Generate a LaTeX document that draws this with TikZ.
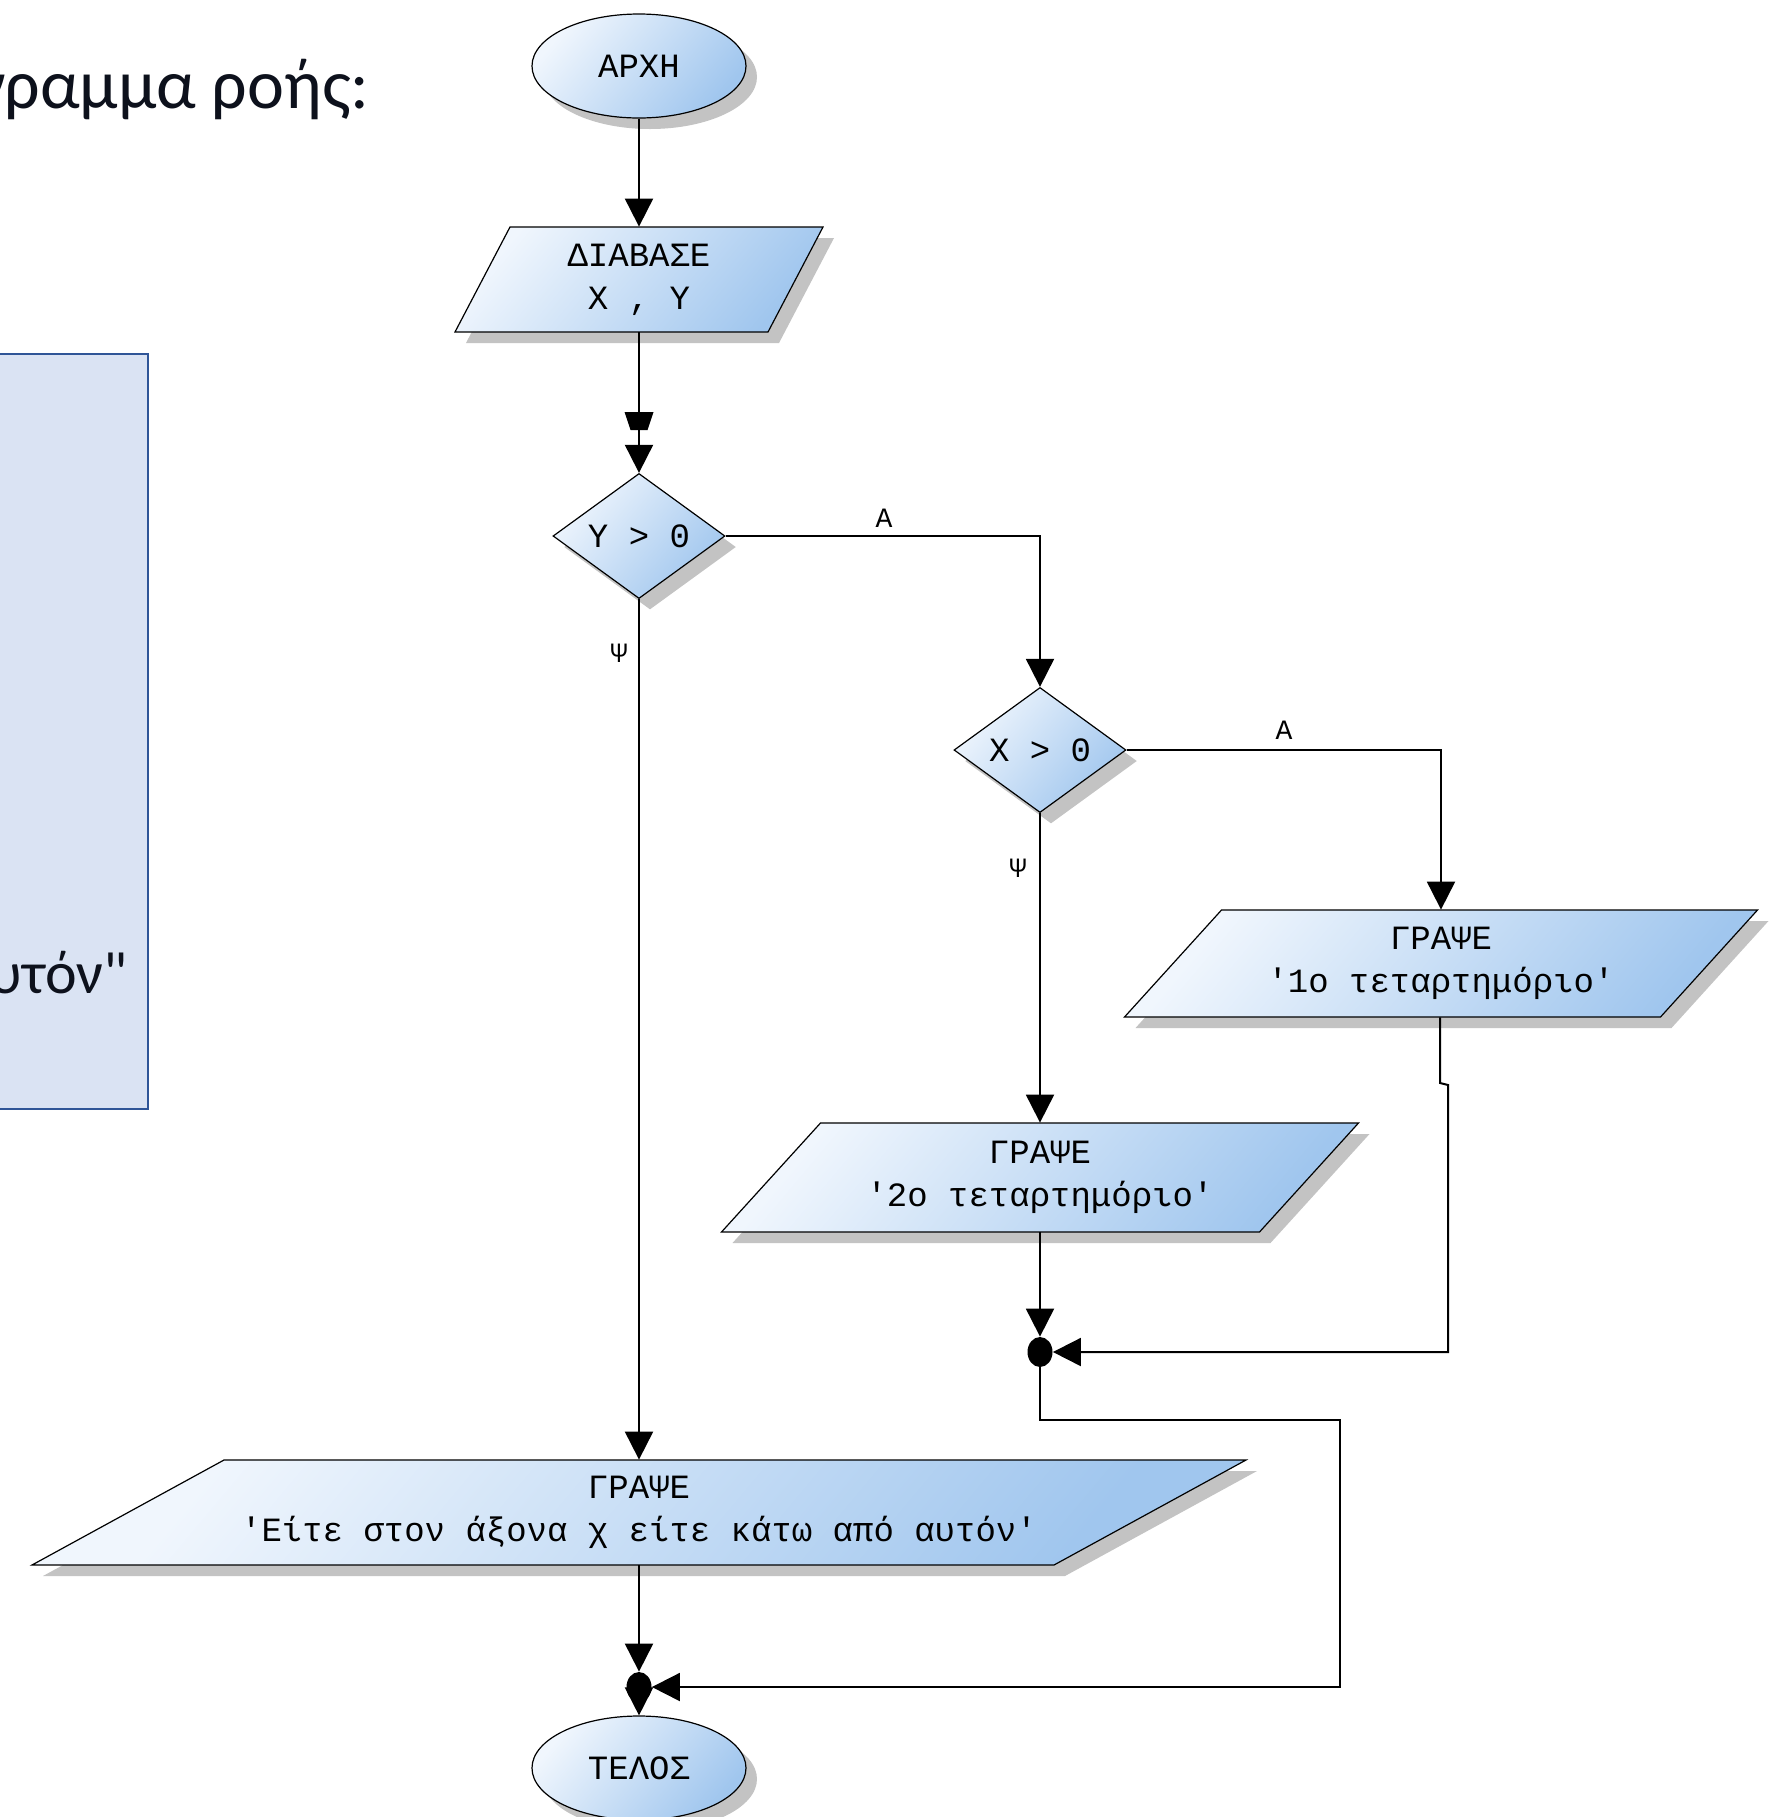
\documentclass[tikz,border=0pt]{standalone}
\usepackage{fontspec}
\setmainfont{Carlito}
\newfontfamily\fslide{Carlito}
\newfontfamily\fmono{Liberation Mono}
\usetikzlibrary{shapes.geometric,arrows.meta,shadows}
\definecolor{shL}{RGB}{240,246,253}
\definecolor{shD}{RGB}{160,198,238}
\definecolor{boxfill}{RGB}{218,227,243}
\definecolor{boxdraw}{RGB}{47,85,151}
\definecolor{shadowgray}{RGB}{195,195,195}
\definecolor{txtdark}{RGB}{13,17,28}
\tikzset{
  conn/.style={line width=1pt, draw=black},
  arr/.style={conn, -{Triangle[length=14pt,width=14pt]}},
  fcfill/.style={draw=black, line width=0.6pt, top color=shL, bottom color=shD, shading angle=50,
    drop shadow={shadow xshift=5.5pt, shadow yshift=-5.5pt, fill=shadowgray, opacity=1}},
  fctext/.style={font=\fontsize{17}{21.5}\fmono, inner sep=0pt, align=center},
  term/.style={fcfill, fctext, ellipse, minimum width=107pt, minimum height=52pt},
  decis/.style={fcfill, fctext, diamond, minimum width=86pt, minimum height=52pt},
  iotext/.style={fctext, shape=rectangle},
  jn/.style={ellipse, fill=black, minimum width=12.5pt, minimum height=15pt, inner sep=0pt},
  lbl/.style={font=\fontsize{14}{16}\fmono, inner sep=0pt},
  slide/.style={inner sep=0pt, text=txtdark}
}
% #1 name, #2 x, #3 y, #4 side length, #5 height, #6 slant, #7 text  (all in px)
\newcommand\ionode[7]{%
  \path[fcfill] ({#2-#4/2+#6/2},{#3-#5/2}) -- ({#2+#4/2+#6/2},{#3-#5/2})
     -- ({#2+#4/2-#6/2},{#3+#5/2}) -- ({#2-#4/2-#6/2},{#3+#5/2}) -- cycle;
  \node[iotext, minimum width={(#4)*0.5pt}, minimum height={(#5)*0.5pt}] (#1) at (#2,#3) {#7};
}
\begin{document}
\begin{tikzpicture}[x=0.5pt,y=-0.5pt]
\useasboundingbox (0,0) rectangle (1784,1817);
\clip (0,0) rectangle (1784,1817);
\fill[white] (0,0) rectangle (1784,1817);

% slide fragments
\node[slide, font=\fontsize{35}{42}\fslide, anchor=base east] (title) at (370,108) {γραμμα ροής:};
\node[draw=boxdraw, fill=boxfill, line width=1pt, minimum width=100pt, minimum height=377.5pt,
      anchor=north east, inner sep=0pt] (lbox) at (149,353) {};
\node[slide, font=\fontsize{30}{36}\fslide, anchor=base east] (ltext) at (128,993) {υτόν"};

% flowchart nodes
\node[term] (start) at (639,66) {ΑΡΧΗ};
\ionode{read}{639}{279.5}{313}{105}{55}{ΔΙΑΒΑΣΕ\\X , Y}
\node[decis] (d1) at (639,536) {Y > 0};
\node[decis] (d2) at (1040,750) {X > 0};
\ionode{p1}{1441}{963.5}{536}{107}{97}{ΓΡΑΨΕ\\'1ο τεταρτημόριο'}
\ionode{p2}{1040}{1177.5}{538}{109}{99}{ΓΡΑΨΕ\\'2ο τεταρτημόριο'}
\ionode{p3}{639}{1512.5}{1022}{105}{192}{ΓΡΑΨΕ\\'Είτε στον άξονα χ είτε κάτω από αυτόν'}
\node[jn] (j1) at (1040,1352) {};
\node[jn] (j2) at (639,1687) {};
\node[term] (end) at (639,1768) {ΤΕΛΟΣ};

% branch labels
\node[lbl] (la1) at (884,518) {Α};
\node[lbl] (lp1) at (619,653) {Ψ};
\node[lbl] (la2) at (1284,730) {Α};
\node[lbl] (lp2) at (1018,868) {Ψ};

% helper coordinates
\coordinate (m1) at (639,412);
\coordinate (k1) at (1440,1083);
\coordinate (k2) at (1448,1085);
\coordinate (k3) at (1340,1420);

% connectors
\draw[arr] (start) -- (read);
\draw[arr] (read) -- (d1);
\fill (m1) ++(-14.5,0) -- ++(29,0) -- ++(-6,18) -- ++(-17,0) -- cycle;
\draw[arr] (d1) -| (d2);
\draw[arr] (d1) -- (p3);
\draw[arr] (d2) -| (p1);
\draw[arr] (d2) -- (p2);
\draw[arr] (p1.south -| k1) -- (k1) -- (k2) |- (j1);
\draw[arr] (p2) -- (j1);
\draw[arr] (j1) |- (k3) |- (j2);
\draw[arr] (p3) -- (j2);
\draw[arr] (j2) -- (end);
\end{tikzpicture}
\end{document}
